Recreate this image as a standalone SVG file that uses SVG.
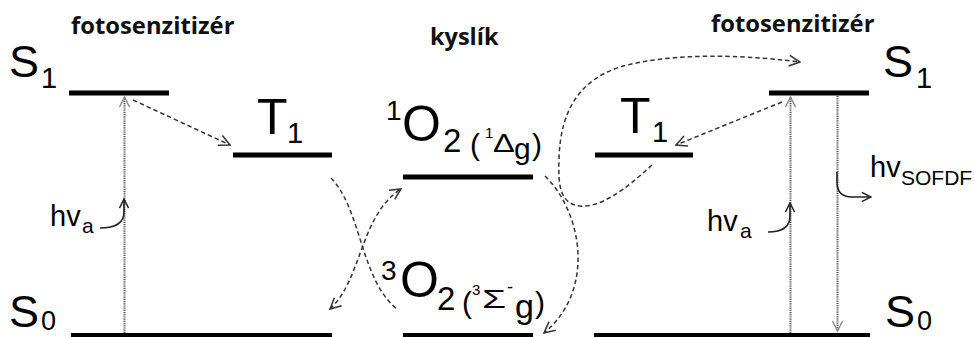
<svg xmlns="http://www.w3.org/2000/svg" width="974" height="337" viewBox="0 0 974 337">
<style>
.lvl{stroke:#000;stroke-width:5;fill:none}
.t{font-family:"Liberation Sans",Arial,sans-serif;fill:#000}
.b{font-family:"Open Sans","Noto Sans",sans-serif;font-weight:bold;fill:#111}
.dash{fill:none;stroke:#333;stroke-width:1.5;stroke-dasharray:4.5,3}
.dot{fill:none;stroke:#555;stroke-width:2;stroke-dasharray:1.2,1}
.sol{fill:none;stroke:#222;stroke-width:1.6}
</style>
<defs>
<marker id="ah" viewBox="0 0 12 12" refX="11" refY="6" markerUnits="userSpaceOnUse" markerWidth="13" markerHeight="13" orient="auto-start-reverse">
<path d="M1,1 L11,6 L1,11" fill="none" stroke="#333" stroke-width="1.4"/>
</marker>
<marker id="ahg" viewBox="0 0 12 12" refX="11" refY="6" markerUnits="userSpaceOnUse" markerWidth="12" markerHeight="14" orient="auto">
<path d="M1,1 L11,6 L1,11" fill="none" stroke="#888" stroke-width="1.4"/>
</marker>
<marker id="ahs" viewBox="0 0 12 12" refX="11" refY="6" markerUnits="userSpaceOnUse" markerWidth="11" markerHeight="12" orient="auto">
<path d="M1,1 L11,6 L1,11" fill="none" stroke="#222" stroke-width="1.6"/>
</marker>
</defs>

<g id="title-left"><text class="b" x="71" y="34" font-size="23.8">fotosenzitizér</text></g>
<g id="title-mid"><text class="b" x="430" y="45" font-size="23.5">kyslík</text></g>
<g id="title-right"><text class="b" x="711" y="32" font-size="23.8">fotosenzitizér</text></g>

<g id="S1-left">
<line class="lvl" x1="69" y1="93" x2="169" y2="93"/>
<text class="t" x="9" y="77" font-size="45">S</text>
<text class="t" x="41" y="88" font-size="29">1</text>
</g>
<g id="T1-left">
<line class="lvl" x1="233" y1="155" x2="332" y2="155"/>
<text class="t" x="257" y="134" font-size="50">T</text>
<text class="t" x="287" y="143" font-size="29">1</text>
</g>
<g id="S0-left">
<line class="lvl" x1="71" y1="335.5" x2="332" y2="335.5"/>
<text class="t" x="9" y="327" font-size="45">S</text>
<text class="t" x="41" y="330" font-size="27">0</text>
</g>

<g id="O2-singlet">
<line class="lvl" x1="403" y1="177" x2="533" y2="177"/>
<text class="t" x="386" y="120" font-size="28">1</text>
<text class="t" x="402" y="141" font-size="50">O</text>
<text class="t" x="443" y="152" font-size="33">2</text>
<text class="t" x="470" y="155" font-size="30">(</text>
<text class="t" x="485" y="138" font-size="15">1</text>
<text class="t" transform="translate(493,152) scale(1.3,1)" font-size="25">Δ</text>
<text class="t" x="514" y="159" font-size="30">g</text>
<text class="t" x="532" y="155" font-size="30">)</text>
</g>
<g id="O2-triplet">
<line class="lvl" x1="403" y1="335.5" x2="533" y2="335.5"/>
<text class="t" x="381" y="280" font-size="28">3</text>
<text class="t" x="400" y="297" font-size="50">O</text>
<text class="t" x="437" y="310" font-size="33">2</text>
<text class="t" x="462" y="313" font-size="30">(</text>
<text class="t" x="472" y="295" font-size="15">3</text>
<text class="t" transform="translate(482,308) scale(1.5,1)" font-size="26">Σ</text>
<text class="t" x="507" y="293" font-size="18">-</text>
<text class="t" x="515" y="318" font-size="34">g</text>
<text class="t" x="535" y="313" font-size="30">)</text>
</g>

<g id="S1-right">
<line class="lvl" x1="769" y1="93" x2="869" y2="93"/>
<text class="t" x="883" y="77" font-size="45">S</text>
<text class="t" x="916" y="88" font-size="29">1</text>
</g>
<g id="T1-right">
<line class="lvl" x1="595" y1="155" x2="693" y2="155"/>
<text class="t" x="620" y="133" font-size="50">T</text>
<text class="t" x="652" y="142" font-size="29">1</text>
</g>
<g id="S0-right">
<line class="lvl" x1="594" y1="335.5" x2="870" y2="335.5"/>
<text class="t" x="885" y="327" font-size="45">S</text>
<text class="t" x="917" y="330" font-size="27">0</text>
</g>

<g id="photon-left">
<text class="t" x="50" y="226" font-size="29">hv</text>
<text class="t" x="82" y="233" font-size="21">a</text>
</g>
<g id="photon-right">
<text class="t" x="707" y="231" font-size="29">hv</text>
<text class="t" x="740" y="238" font-size="21">a</text>
</g>
<g id="photon-emission">
<text class="t" x="870" y="177" font-size="29">hv</text>
<text class="t" x="901" y="185" font-size="21">SOFDF</text>
</g>

<g id="connectors">
<line class="dot" x1="124.5" y1="333" x2="124.5" y2="97" marker-end="url(#ahg)"/>
<path class="sol" d="M100,228 C116,228 124,223 124,212 L124,199" marker-end="url(#ahs)"/>
<line class="dash" x1="133" y1="100" x2="230" y2="145" marker-end="url(#ah)"/>
<path class="dash" d="M331,178 C362,210 360,280 398,310"/>
<path class="dash" d="M330,309 C362,280 360,215 401,189" marker-start="url(#ah)" marker-end="url(#ah)"/>
<path class="dash" d="M545,176 C582,212 596,290 544,333" marker-end="url(#ah)"/>
<path class="dash" d="M652,165 C625,190 600,208 580,206 C560,204 558,185 559,160 C560,110 580,80 620,67 C680,50 760,57 800,62" marker-end="url(#ah)"/>
<line class="dash" x1="782" y1="102" x2="676" y2="145" marker-end="url(#ah)"/>
<line class="dot" x1="790.5" y1="333" x2="790.5" y2="97" marker-end="url(#ahg)"/>
<path class="sol" d="M768,232 C784,232 790,226 790,216 L790,203" marker-end="url(#ahs)"/>
<line class="dot" x1="837.5" y1="96" x2="837.5" y2="331" marker-end="url(#ahg)"/>
<path class="sol" d="M837,172 L837,182 C837,192 842,197 852,197 L871,197" marker-end="url(#ahs)"/>
</g>
</svg>
